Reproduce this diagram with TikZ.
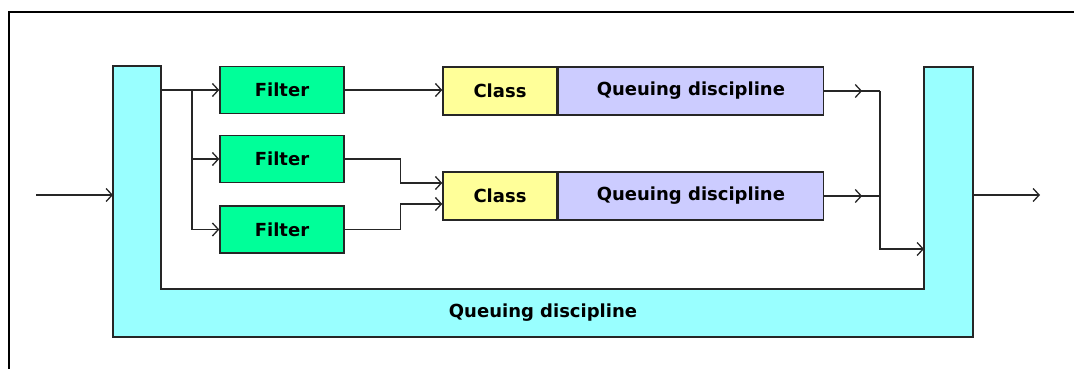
\documentclass[tikz,border=0pt]{standalone}
\usepackage{fontspec}
\newfontfamily\labelfont{DejaVu Sans}
\usetikzlibrary{positioning,arrows.meta,decorations.markings}

\definecolor{filtergreen}{HTML}{00FF99}
\definecolor{qdcyan}{HTML}{99FFFF}
\definecolor{classyellow}{HTML}{FFFF99}
\definecolor{qdlilac}{HTML}{CCCCFF}

\tikzset{
  box/.style={rectangle, draw=black!85, line width=1.4pt, inner sep=0pt,
    minimum height=48, font=\labelfont\bfseries\fontsize{18}{20}\selectfont},
  filter/.style={box, fill=filtergreen, minimum width=124, minimum height=47},
  class/.style={box, fill=classyellow, minimum width=114},
  qdisc/.style={box, fill=qdlilac, minimum width=265},
  flow/.style={draw=black!85, line width=1.3pt, -{Straight Barb[length=6pt,width=13pt]}},
  midflow/.style={draw=black!85, line width=1.3pt, postaction={decorate},
    decoration={markings, mark=at position 0.68 with {\arrow{Straight Barb[length=6pt,width=13pt]}}}}
}

\begin{document}
\begin{tikzpicture}[x=1pt, y=-1pt]
   \useasboundingbox (0,0) rectangle (1074,369);
   % outer frame
   \draw[line width=2.2pt] (9,369) -- (9,12) -- (1074,12);

   % root qdisc, drawn as a U
   \coordinate (ultop) at (113,66);
   \coordinate (urtop) at (973,67);
   \coordinate (ilbot) at (161,289);
   \coordinate (irbot) at (924,289);
   \draw[fill=qdcyan, draw=black!85, line width=1.4pt]
      (ultop) -- (ilbot |- ultop) -- (ilbot) -- (irbot) -- (irbot |- urtop)
      -- (urtop) -- (urtop |- 0,337) -- (ultop |- 0,337) -- cycle;
   \node[font=\labelfont\bfseries\fontsize{18}{20}\selectfont] (qlabel) at (543,313) {Queuing discipline};

   \coordinate (in) at (36,195);
   \coordinate (lin) at (113,195);
   \coordinate (lout) at (161,90);
   \coordinate (split) at (192,90);
   \coordinate (join) at (880,91);
   \coordinate (rin) at (924,249);
   \coordinate (rout) at (973,195);
   \coordinate (out) at (1040,195);

   % filters
   \node[filter] (f1) at (282,90) {Filter};
   \node[filter] (f2) at (282,159) {Filter};
   \node[filter] (f3) at (282,229.5) {Filter};

   % classes with their queuing disciplines
   \node[class] (c1) at (500,91) {Class};
   \node[qdisc, right=0pt of c1] (q1) {Queuing discipline};
   \node[class] (c2) at (500,196) {Class};
   \node[qdisc, right=0pt of c2] (q2) {Queuing discipline};

   % connections
   \draw[flow] (in) -- (lin);
   \draw[draw=black!85, line width=1.3pt] (lout) -- (split);
   \draw[flow] (split) -- (f1.west);
   \draw[flow] (split) |- (f2.west);
   \draw[flow] (split) |- (f3.west);
   \draw[flow] (f1.east) -- (c1.west |- f1.east);
   \draw[flow] (f2.east) -- ++(56,0) |- ([yshift=13pt]c2.west);
   \draw[flow] (f3.east) -- ++(56,0) |- ([yshift=-8pt]c2.west);
   \draw[midflow] (q1.east) -- (join);
   \draw[midflow] (q2.east) -- (q2.east -| join);
   \draw[flow] (join) |- (rin);
   \draw[flow] (rout) -- (out);
\end{tikzpicture}
\end{document}
